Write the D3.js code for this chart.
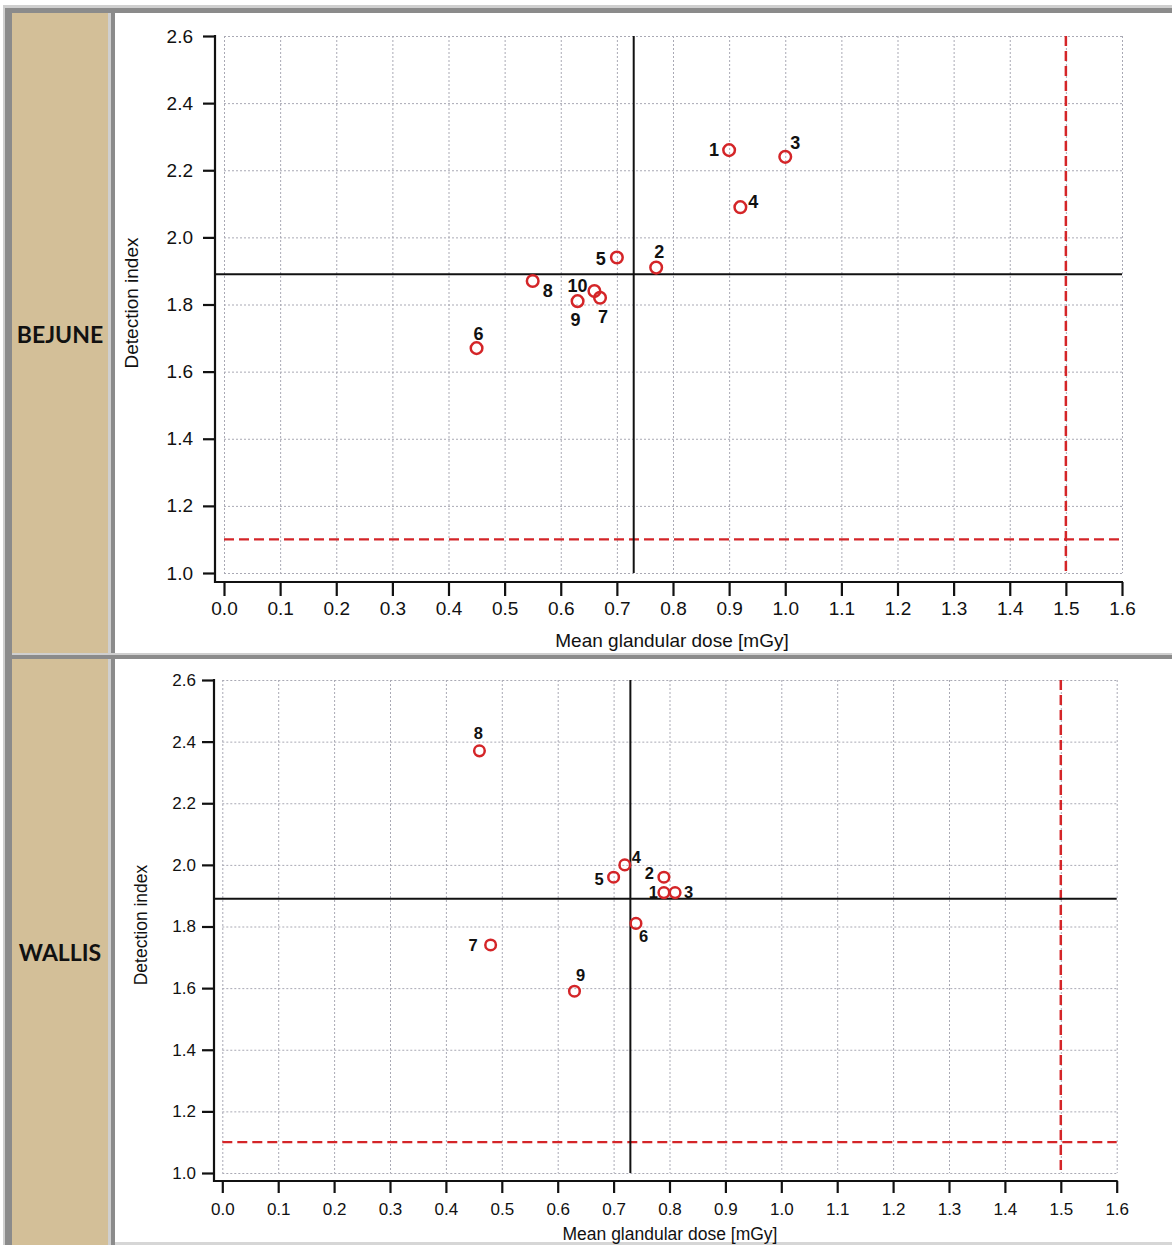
<!DOCTYPE html>
<html>
<head>
<meta charset="utf-8">
<script src="https://cdn.jsdelivr.net/npm/d3@7"></script>
<style>
  html, body { margin: 0; padding: 0; background: #ffffff; }
  svg { display: block; }
</style>
</head>
<body>
<svg id="chart" width="1172" height="1245"></svg>
<script>
// ---------------- DATA ----------------
const xTickValues = [0.0, 0.1, 0.2, 0.3, 0.4, 0.5, 0.6, 0.7, 0.8, 0.9, 1.0, 1.1, 1.2, 1.3, 1.4, 1.5, 1.6];
const yTickValues = [1.0, 1.2, 1.4, 1.6, 1.8, 2.0, 2.2, 2.4, 2.6];
const regionNames = ["BEJUNE", "WALLIS"];
const xTitle = "Mean glandular dose [mGy]";
const yTitle = "Detection index";

const bejuneIds   = ["1", "2", "3", "4", "5", "6", "7", "8", "9", "10"];
const bejuneDose  = [0.90, 0.77, 1.00, 0.92, 0.70, 0.45, 0.67, 0.55, 0.63, 0.66];
const bejuneIndex = [2.26, 1.91, 2.24, 2.09, 1.94, 1.67, 1.82, 1.87, 1.81, 1.84];

const wallisIds   = ["1", "2", "3", "4", "5", "6", "7", "8", "9"];
const wallisDose  = [0.79, 0.79, 0.81, 0.72, 0.70, 0.74, 0.48, 0.46, 0.63];
const wallisIndex = [1.91, 1.96, 1.91, 2.00, 1.96, 1.81, 1.74, 2.37, 1.59];

const meanDose = [0.73, 0.73];       // black vertical reference
const meanIndex = [1.89, 1.89];      // black horizontal reference
const limitDose = 1.5;               // red dashed vertical
const limitIndex = 1.1;              // red dashed horizontal

// ---------------- LAYOUT / STYLE ----------------
const svg = d3.select("#chart");
const W = 1172, H = 1245;
const RED = "#d42528";
const TAN = "#d3bf98";
const DARK = "#8b8b8b";
const LIGHT = "#cfcfcf";

// label offsets (text anchor, dx, dy) per point id, per panel
const labelLayout = [
  { "1": ["end", -10, 6], "2": ["middle", 3, -10], "3": ["start", 5, -8], "4": ["start", 8, 1],
    "5": ["end", -11, 7], "6": ["middle", 2, -8], "7": ["middle", 3, 25], "8": ["start", 10, 16],
    "9": ["middle", -2, 25], "10": ["end", -7, 1] },
  { "1": ["end", -6, 5], "2": ["end", -10, 2], "3": ["start", 9, 5], "4": ["start", 7, -2],
    "5": ["end", -10, 8], "6": ["start", 3, 19], "7": ["end", -13, 6], "8": ["middle", -1, -12],
    "9": ["middle", 6, -10] }
];

const panels = [
  { ids: bejuneIds, dose: bejuneDose, index: bejuneIndex,
    x0: 224, x1: 1122, yb: 573, yt: 36, axisX: 215, axisY: 582,
    yTick: 12, yPad: 10, xTick: 14, xPad: 6, tickFont: 19, titleFont: 19,
    xTitleY: 647, xTitleX: 672, yTitleX: 138, yTitleY: 303, r: 5.8, labelFont: 18,
    nameY: 343, top: 13, bottom: 653 },
  { ids: wallisIds, dose: wallisDose, index: wallisIndex,
    x0: 222.3, x1: 1116.7, yb: 1173, yt: 680, axisX: 214, axisY: 1181,
    yTick: 12, yPad: 6, xTick: 12, xPad: 10, tickFont: 17, titleFont: 17.5,
    xTitleY: 1240, xTitleX: 670, yTitleX: 147, yTitleY: 925, r: 5.3, labelFont: 16.5,
    nameY: 961, top: 659, bottom: 1245 }
];

// ---------------- FRAME ----------------
svg.append("rect").attr("x", 0).attr("y", 0).attr("width", W).attr("height", H).attr("fill", "#fff");
// top border
svg.append("rect").attr("x", 3).attr("y", 5).attr("width", W - 3).attr("height", 3).attr("fill", LIGHT);
svg.append("rect").attr("x", 3).attr("y", 8).attr("width", W - 3).attr("height", 5).attr("fill", DARK);
// left border
svg.append("rect").attr("x", 3).attr("y", 5).attr("width", 2).attr("height", H - 5).attr("fill", LIGHT);
svg.append("rect").attr("x", 5).attr("y", 8).attr("width", 7).attr("height", H - 8).attr("fill", DARK);
// tan label cells
panels.forEach(p => {
  svg.append("rect").attr("x", 12).attr("y", p.top).attr("width", 96).attr("height", p.bottom - p.top).attr("fill", TAN);
});
// vertical separator
svg.append("rect").attr("x", 108).attr("y", 13).attr("width", 3).attr("height", H - 13).attr("fill", LIGHT);
svg.append("rect").attr("x", 111).attr("y", 13).attr("width", 4).attr("height", H - 13).attr("fill", DARK);
// horizontal separator
svg.append("rect").attr("x", 12).attr("y", 653).attr("width", W - 12).attr("height", 2).attr("fill", LIGHT);
svg.append("rect").attr("x", 12).attr("y", 655).attr("width", W - 12).attr("height", 4).attr("fill", DARK);
// bottom line
svg.append("rect").attr("x", 115).attr("y", 1242).attr("width", W - 115).attr("height", 3).attr("fill", "#d6d6d6");

// ---------------- PANELS ----------------
panels.forEach((p, pi) => {
  const g = svg.append("g");
  const x = d3.scaleLinear().domain([0, 1.6]).range([p.x0, p.x1]);
  const y = d3.scaleLinear().domain([1.0, 2.6]).range([p.yb, p.yt]);

  // region name
  svg.append("text")
    .attr("x", 60).attr("y", p.nameY)
    .attr("text-anchor", "middle")
    .attr("font-family", "Lato, 'Liberation Sans', sans-serif")
    .attr("font-weight", "bold")
    .attr("font-size", 23)
    .attr("fill", "#111")
    .text(regionNames[pi]);

  // grid
  const grid = g.append("g").attr("stroke", "#a9a9b4").attr("stroke-width", 1)
    .attr("stroke-dasharray", "2,2").attr("fill", "none");
  grid.selectAll("line.vx").data(xTickValues).join("line")
    .attr("x1", d => x(d) + 0.5).attr("x2", d => x(d) + 0.5)
    .attr("y1", y(2.6)).attr("y2", y(1.0));
  grid.selectAll("line.hy").data(yTickValues).join("line")
    .attr("x1", x(0)).attr("x2", x(1.6))
    .attr("y1", d => y(d) + 0.5).attr("y2", d => y(d) + 0.5);

  // axes
  const yAxis = d3.axisLeft(y).tickValues(yTickValues).tickFormat(d3.format(".1f"))
    .tickSize(p.yTick).tickPadding(p.yPad);
  const ya = g.append("g").attr("transform", `translate(${p.axisX},0)`).call(yAxis);
  const xAxis = d3.axisBottom(x).tickValues(xTickValues).tickFormat(d3.format(".1f"))
    .tickSize(p.xTick).tickPadding(p.xPad);
  const xa = g.append("g").attr("transform", `translate(0,${p.axisY})`).call(xAxis);
  [ya, xa].forEach(a => {
    a.select(".domain").remove();
    a.selectAll(".tick line").attr("stroke", "#111").attr("stroke-width", 2.2);
    a.selectAll(".tick text").attr("fill", "#111")
      .attr("font-family", "'Liberation Sans', Arial, sans-serif")
      .attr("font-size", p.tickFont);
  });
  g.append("line").attr("x1", p.axisX).attr("x2", p.axisX)
    .attr("y1", y(2.6) - 1).attr("y2", p.axisY + 1)
    .attr("stroke", "#111").attr("stroke-width", 2.2);
  g.append("line").attr("x1", p.axisX - 1).attr("x2", x(1.6) + 1)
    .attr("y1", p.axisY).attr("y2", p.axisY)
    .attr("stroke", "#111").attr("stroke-width", 2.2);

  // titles
  g.append("text").attr("x", p.xTitleX).attr("y", p.xTitleY)
    .attr("text-anchor", "middle")
    .attr("font-family", "'Liberation Sans', Arial, sans-serif")
    .attr("font-size", p.titleFont).attr("fill", "#111").text(xTitle);
  g.append("text")
    .attr("transform", `translate(${p.yTitleX},${p.yTitleY}) rotate(-90)`)
    .attr("text-anchor", "middle")
    .attr("font-family", "'Liberation Sans', Arial, sans-serif")
    .attr("font-size", p.titleFont).attr("fill", "#111").text(yTitle);

  // red dashed limits
  g.append("line").attr("x1", x(0)).attr("x2", x(1.6))
    .attr("y1", y(limitIndex)).attr("y2", y(limitIndex))
    .attr("stroke", RED).attr("stroke-width", 2.2).attr("stroke-dasharray", "10,5");
  g.append("line").attr("x1", x(limitDose)).attr("x2", x(limitDose))
    .attr("y1", y(2.6)).attr("y2", y(1.0))
    .attr("stroke", RED).attr("stroke-width", 2.5).attr("stroke-dasharray", "10,5");

  // black mean references
  g.append("line").attr("x1", p.axisX).attr("x2", x(1.6))
    .attr("y1", y(meanIndex[pi])).attr("y2", y(meanIndex[pi]))
    .attr("stroke", "#111").attr("stroke-width", 2);
  g.append("line").attr("x1", x(meanDose[pi])).attr("x2", x(meanDose[pi]))
    .attr("y1", y(2.6)).attr("y2", y(1.0))
    .attr("stroke", "#111").attr("stroke-width", 2);

  // points
  const pts = p.ids.map((id, i) => ({ id, dose: p.dose[i], index: p.index[i] }));
  g.selectAll("circle.pt").data(pts).join("circle")
    .attr("cx", d => x(d.dose)).attr("cy", d => y(d.index))
    .attr("r", p.r).attr("fill", "none").attr("stroke", RED).attr("stroke-width", 2.5);

  const lay = labelLayout[pi];
  g.selectAll("text.lbl").data(pts).join("text")
    .attr("x", d => x(d.dose) + lay[d.id][1])
    .attr("y", d => y(d.index) + lay[d.id][2])
    .attr("text-anchor", d => lay[d.id][0])
    .attr("font-family", "'Liberation Sans', Arial, sans-serif")
    .attr("font-weight", "bold")
    .attr("font-size", p.labelFont)
    .attr("fill", "#111")
    .text(d => d.id);
});
</script>
</body>
</html>
